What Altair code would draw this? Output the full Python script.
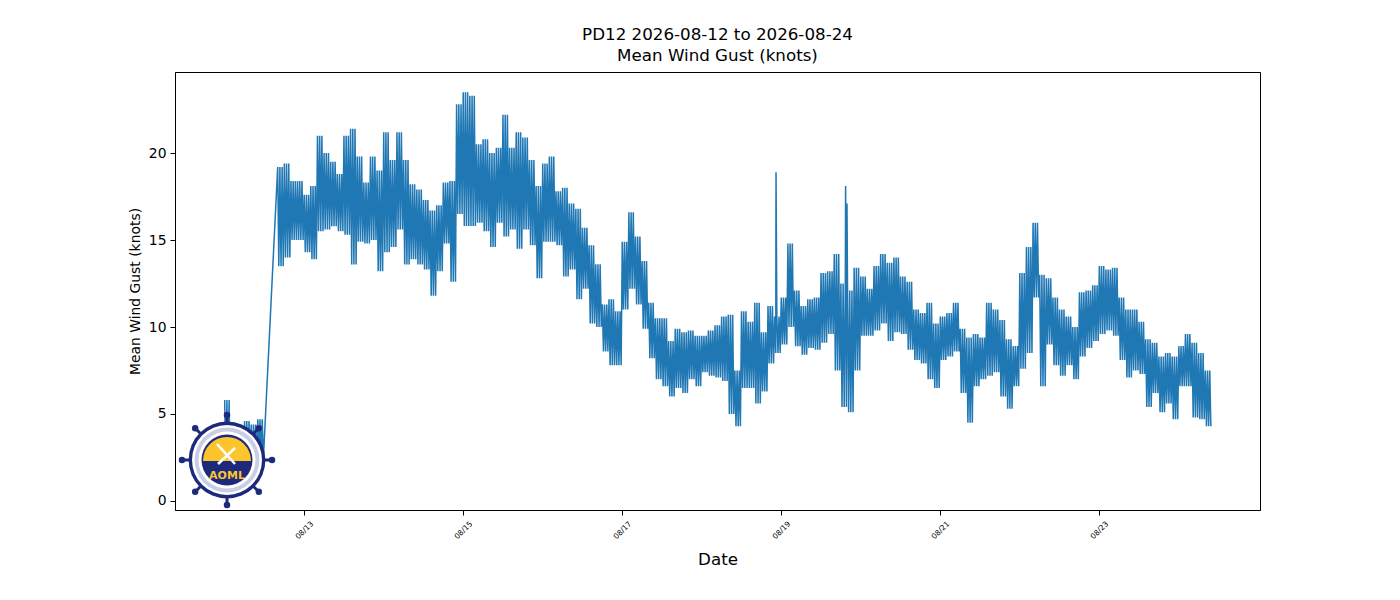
import math
import altair as alt
import pandas as pd

# ---------------- data ----------------
title_lines = ["PD12 2026-08-12 to 2026-08-24", "Mean Wind Gust (knots)"]
y_title = "Mean Wind Gust (knots)"
x_title = "Date"

series_start = "2026-08-12 00:00"   # first 2-hour bin
bin_hours = 2
samples_per_bin = 6                 # 20-minute samples alternating between the two envelopes

# upper / lower envelope of the gust trace in each 2-hour bin (knots); None = no data
gust_hi = [5.8, 3.6, 4.2, 4.6, 4.4, 4.7, None, None,
           19.2, 19.4, 18.4, 18.4, 17.6, 18.1, 21.0, 20.0, 19.5, 18.8,
           21.0, 21.4, 19.8, 18.3, 19.8, 19.0, 21.2, 19.6, 21.2, 19.6,
           18.2, 17.9, 17.3, 16.7, 17.0, 18.3, 18.4, 22.8, 23.5, 23.3,
           20.5, 20.8, 20.0, 20.3, 22.2, 20.3, 21.2, 20.9, 19.6, 18.1,
           19.4, 19.8, 17.8, 18.0, 17.1, 16.8, 15.7, 14.7, 13.6, 11.3,
           11.6, 10.9, 14.9, 16.6, 15.2, 13.8, 11.4, 10.5, 10.5, 9.2,
           9.9, 9.7, 9.8, 9.5, 9.5, 9.8, 10.1, 10.6, 10.7, 7.5,
           10.9, 10.3, 11.4, 9.7, 11.2, 10.6, 11.7, 14.8, 12.1, 11.2,
           11.6, 11.7, 13.1, 13.2, 14.2, 12.5, 12.1, 13.4, 12.9, 12.2,
           13.5, 14.2, 13.7, 14.0, 12.9, 12.6, 11.0, 10.8, 11.4, 10.2,
           10.6, 10.8, 11.4, 9.9, 9.4, 9.6, 9.4, 11.4, 11.0, 10.4,
           9.3, 8.9, 13.1, 14.6, 16.0, 13.0, 12.8, 11.7, 11.0, 10.6,
           10.0, 12.0, 12.1, 12.4, 13.5, 13.3, 13.4, 11.7, 11.0, 11.0,
           10.3, 9.3, 9.1, 8.3, 8.5, 8.3, 8.9, 9.6, 9.1, 8.5, 7.5]
gust_lo = [1.0, 0.7, 1.5, 1.8, 2.0, 2.4, None, None,
           13.5, 14.0, 15.0, 15.0, 14.3, 13.9, 15.5, 15.6, 15.8, 15.5,
           15.3, 13.6, 14.9, 14.8, 15.0, 13.2, 14.3, 14.6, 15.6, 13.6,
           13.9, 13.6, 13.3, 11.8, 13.2, 14.8, 12.6, 16.5, 15.8, 15.8,
           16.0, 15.5, 14.6, 16.0, 15.2, 15.6, 14.5, 15.6, 14.7, 12.8,
           14.9, 14.9, 14.7, 12.9, 13.3, 11.6, 12.2, 10.2, 10.0, 8.6,
           7.8, 7.8, 11.0, 12.2, 11.3, 9.9, 8.2, 7.0, 6.6, 6.0,
           6.5, 6.2, 7.0, 6.6, 7.4, 7.2, 7.1, 6.9, 5.0, 4.3,
           6.5, 6.5, 5.6, 6.3, 7.9, 8.5, 9.0, 10.0, 8.9, 8.4,
           8.8, 8.7, 9.1, 9.6, 7.5, 5.4, 5.1, 7.5, 9.5, 9.5,
           9.8, 10.2, 9.2, 9.7, 9.6, 8.7, 8.1, 7.9, 7.0, 6.5,
           8.1, 8.3, 8.6, 6.2, 4.5, 6.6, 7.0, 7.2, 7.4, 6.0,
           5.3, 6.6, 7.6, 8.5, 11.7, 6.6, 9.0, 7.8, 7.2, 7.8,
           7.0, 8.3, 8.8, 9.2, 9.6, 9.8, 9.5, 8.1, 7.1, 7.5,
           7.3, 5.4, 6.2, 5.1, 5.6, 4.7, 6.6, 6.6, 4.8, 4.7, 4.3]

# isolated spikes
spike_times = ["2026-08-18 22:25", "2026-08-19 19:25", "2026-08-19 19:50"]
spike_values = [18.9, 18.1, 17.1]

y_ticks = [0, 5, 10, 15, 20]
x_tick_days = [13, 15, 17, 19, 21, 23]

# ---------------- table for the line ----------------
rows = []
t0 = pd.Timestamp(series_start)
step = pd.Timedelta(minutes=60 * bin_hours // samples_per_bin)
for i, (h, l) in enumerate(zip(gust_hi, gust_lo)):
    if h is None:
        continue
    t = t0 + pd.Timedelta(hours=bin_hours * i)
    for k in range(samples_per_bin):
        rows.append((t + step * k, h if k % 2 == 0 else l))
for ts, v in zip(spike_times, spike_values):
    rows.append((pd.Timestamp(ts), v))
df = pd.DataFrame(rows, columns=["time", "gust"]).sort_values("time").reset_index(drop=True)

FONT = "DejaVu Sans"

line = alt.Chart(df).mark_line(color="#1f77b4", strokeWidth=1.5).encode(
    x=alt.X(
        "time:T",
        scale=alt.Scale(domain=[
            alt.DateTime(year=2026, month=8, date=11, hours=9, minutes=0),
            alt.DateTime(year=2026, month=8, date=25, hours=0, minutes=30),
        ]),
        axis=alt.Axis(
            values=[alt.DateTime(year=2026, month=8, date=d) for d in x_tick_days],
            format="%m/%d",
            labelAngle=315,
            labelAlign="center",
            labelBaseline="middle",
            labelFontSize=7.5,
            labelPadding=15,
            tickSize=5,
            title=x_title,
            titleFontSize=16.7,
            titleFontWeight="normal",
            titleY=54,
            titleBaseline="alphabetic",
            grid=False,
        ),
    ),
    y=alt.Y(
        "gust:Q",
        scale=alt.Scale(domain=[-0.52, 24.66], nice=False, zero=False),
        axis=alt.Axis(
            values=y_ticks,
            format="d",
            labelFontSize=13.9,
            labelPadding=4,
            tickSize=5,
            title=y_title,
            titleFontSize=13.9,
            titleFontWeight="normal",
            titleAngle=270,
            titleX=-40,
            titleY=219,
            titleAlign="center",
            titleBaseline="middle",
            grid=False,
        ),
    ),
)

# ---------------- AOML logo (decoration) ----------------
navy = "#1d2a7b"
yellow = "#fdc52c"
cx, cy = 52, 388
one = alt.Chart(pd.DataFrame({"k": [0]}))
logo = []
for ang in [0, 45, 90, 135]:
    dx = 46 * math.cos(math.radians(ang))
    dy = 46 * math.sin(math.radians(ang))
    logo.append(one.mark_rule(color=navy, strokeWidth=3).encode(
        x=alt.value(cx - dx), x2=alt.value(cx + dx),
        y=alt.value(cy - dy), y2=alt.value(cy + dy)))
for ang in range(0, 360, 45):
    logo.append(one.mark_point(shape="circle", filled=True, size=42, color=navy, opacity=1).encode(
        x=alt.value(cx + 45 * math.cos(math.radians(ang))),
        y=alt.value(cy + 45 * math.sin(math.radians(ang)))))
logo.append(one.mark_point(shape="circle", filled=True, size=5900, color=navy, opacity=1).encode(
    x=alt.value(cx), y=alt.value(cy)))
logo.append(one.mark_point(shape="circle", filled=True, size=4900, color="white", opacity=1).encode(
    x=alt.value(cx), y=alt.value(cy)))
logo.append(one.mark_point(shape="circle", filled=True, size=4200, color="#c9cde6", opacity=1).encode(
    x=alt.value(cx), y=alt.value(cy)))
logo.append(one.mark_point(shape="circle", filled=True, size=3250, color="white", opacity=1).encode(
    x=alt.value(cx), y=alt.value(cy)))
logo.append(one.mark_point(shape="circle", filled=True, size=2600, color=navy, opacity=1).encode(
    x=alt.value(cx), y=alt.value(cy)))
logo.append(one.mark_arc(color=yellow, radius=24, theta=4.712, theta2=7.854).encode(
    x=alt.value(cx), y=alt.value(cy + 1)))
logo.append(one.mark_rule(color="white", strokeWidth=2.5).encode(
    x=alt.value(cx - 10), x2=alt.value(cx + 8), y=alt.value(cy - 16), y2=alt.value(cy + 4)))
logo.append(one.mark_rule(color="white", strokeWidth=2.5).encode(
    x=alt.value(cx + 8), x2=alt.value(cx - 9), y=alt.value(cy - 12), y2=alt.value(cy + 4)))
logo.append(one.mark_text(text="AOML", color=yellow, fontWeight="bold", fontSize=11, font=FONT,
                          align="center", baseline="middle").encode(
    x=alt.value(cx), y=alt.value(cy + 16)))

chart = alt.layer(line, *logo).properties(
    width=1085,
    height=438,
    autosize=alt.AutoSizeParams(type="none"),
    padding={"left": 167, "top": 64, "right": 130, "bottom": 70},
    title=alt.Title(
        text=title_lines,
        fontSize=16.7,
        fontWeight="normal",
        font=FONT,
        color="black",
        anchor="middle",
        offset=7,
        lineHeight=21,
    ),
).configure(
    font=FONT,
).configure_view(
    stroke="black",
    strokeWidth=1,
).configure_axis(
    domainColor="black",
    domainWidth=1,
    tickColor="black",
    tickWidth=1,
    labelColor="black",
    titleColor="black",
    labelFont=FONT,
    titleFont=FONT,
)

chart.save("out.html", embed_options={"renderer": "svg", "actions": False})
